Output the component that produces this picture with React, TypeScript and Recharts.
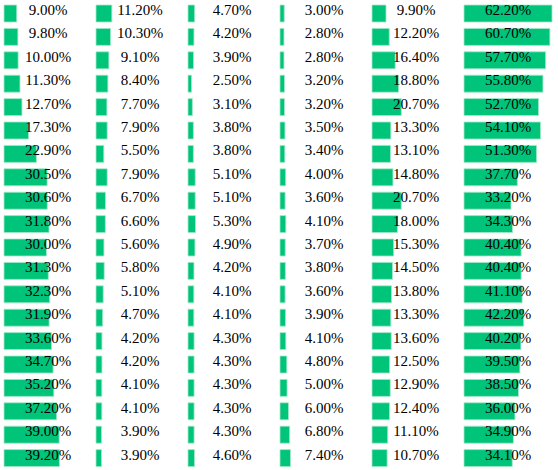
import React from 'react';
import { BarChart, Bar, XAxis, YAxis, LabelList } from 'recharts';

// one array per column, top row first
const rowIds = [
  'r1', 'r2', 'r3', 'r4', 'r5', 'r6', 'r7', 'r8', 'r9', 'r10',
  'r11', 'r12', 'r13', 'r14', 'r15', 'r16', 'r17', 'r18', 'r19', 'r20',
];

const col1 = [9.0, 9.8, 10.0, 11.3, 12.7, 17.3, 22.9, 30.5, 30.6, 31.8, 30.0, 31.3, 32.3, 31.9, 33.6, 34.7, 35.2, 37.2, 39.0, 39.2];
const col2 = [11.2, 10.3, 9.1, 8.4, 7.7, 7.9, 5.5, 7.9, 6.7, 6.6, 5.6, 5.8, 5.1, 4.7, 4.2, 4.2, 4.1, 4.1, 3.9, 3.9];
const col3 = [4.7, 4.2, 3.9, 2.5, 3.1, 3.8, 3.8, 5.1, 5.1, 5.3, 4.9, 4.2, 4.1, 4.1, 4.3, 4.3, 4.3, 4.3, 4.3, 4.6];
const col4 = [3.0, 2.8, 2.8, 3.2, 3.2, 3.5, 3.4, 4.0, 3.6, 4.1, 3.7, 3.8, 3.6, 3.9, 4.1, 4.8, 5.0, 6.0, 6.8, 7.4];
const col5 = [9.9, 12.2, 16.4, 18.8, 20.7, 13.3, 13.1, 14.8, 20.7, 18.0, 15.3, 14.5, 13.8, 13.3, 13.6, 12.5, 12.9, 12.4, 11.1, 10.7];
const col6 = [62.2, 60.7, 57.7, 55.8, 52.7, 54.1, 51.3, 37.7, 33.2, 34.3, 40.4, 40.4, 41.1, 42.2, 40.2, 39.5, 38.5, 36.0, 34.9, 34.1];

const columns = [col1, col2, col3, col4, col5, col6];

// all columns share one scale, the largest value fills the cell
const maxValue = Math.max(...columns.flat());

const CELL_W = 92;
const CHART_H = 470;
const SERIF = '"Liberation Serif", "Times New Roman", serif';

const BarLabel = (props: any) => {
  const { y, value } = props;
  return (
    <text
      x={CELL_W / 2}
      y={y + 10}
      textAnchor="middle"
      fill="#000"
      fontFamily={SERIF}
      fontSize={15}
    >
      {Number(value).toFixed(2)}%
    </text>
  );
};

const DataBarColumn = ({ values }: { values: number[] }) => {
  const data = rowIds.map((id, i) => ({ id, value: values[i] }));
  return (
    <BarChart
      width={CELL_W}
      height={CHART_H}
      data={data}
      layout="vertical"
      margin={{ top: 2, right: 2, bottom: 0, left: 2 }}
    >
      <XAxis type="number" domain={[0, maxValue]} hide />
      <YAxis type="category" dataKey="id" hide />
      <Bar
        dataKey="value"
        fill="#00c47a"
        stroke="#a6e8c8"
        strokeWidth={0.8}
        barSize={17}
        isAnimationActive={false}
      >
        <LabelList dataKey="value" content={<BarLabel />} />
      </Bar>
    </BarChart>
  );
};

export default function App() {
  return (
    <div
      style={{
        position: 'absolute',
        left: 0,
        top: 0,
        width: 558,
        height: 470,
        background: '#fff',
        display: 'flex',
        paddingLeft: 2,
        boxSizing: 'border-box',
        fontFamily: SERIF,
      }}
    >
      {columns.map((values, i) => (
        <DataBarColumn key={i} values={values} />
      ))}
    </div>
  );
}
